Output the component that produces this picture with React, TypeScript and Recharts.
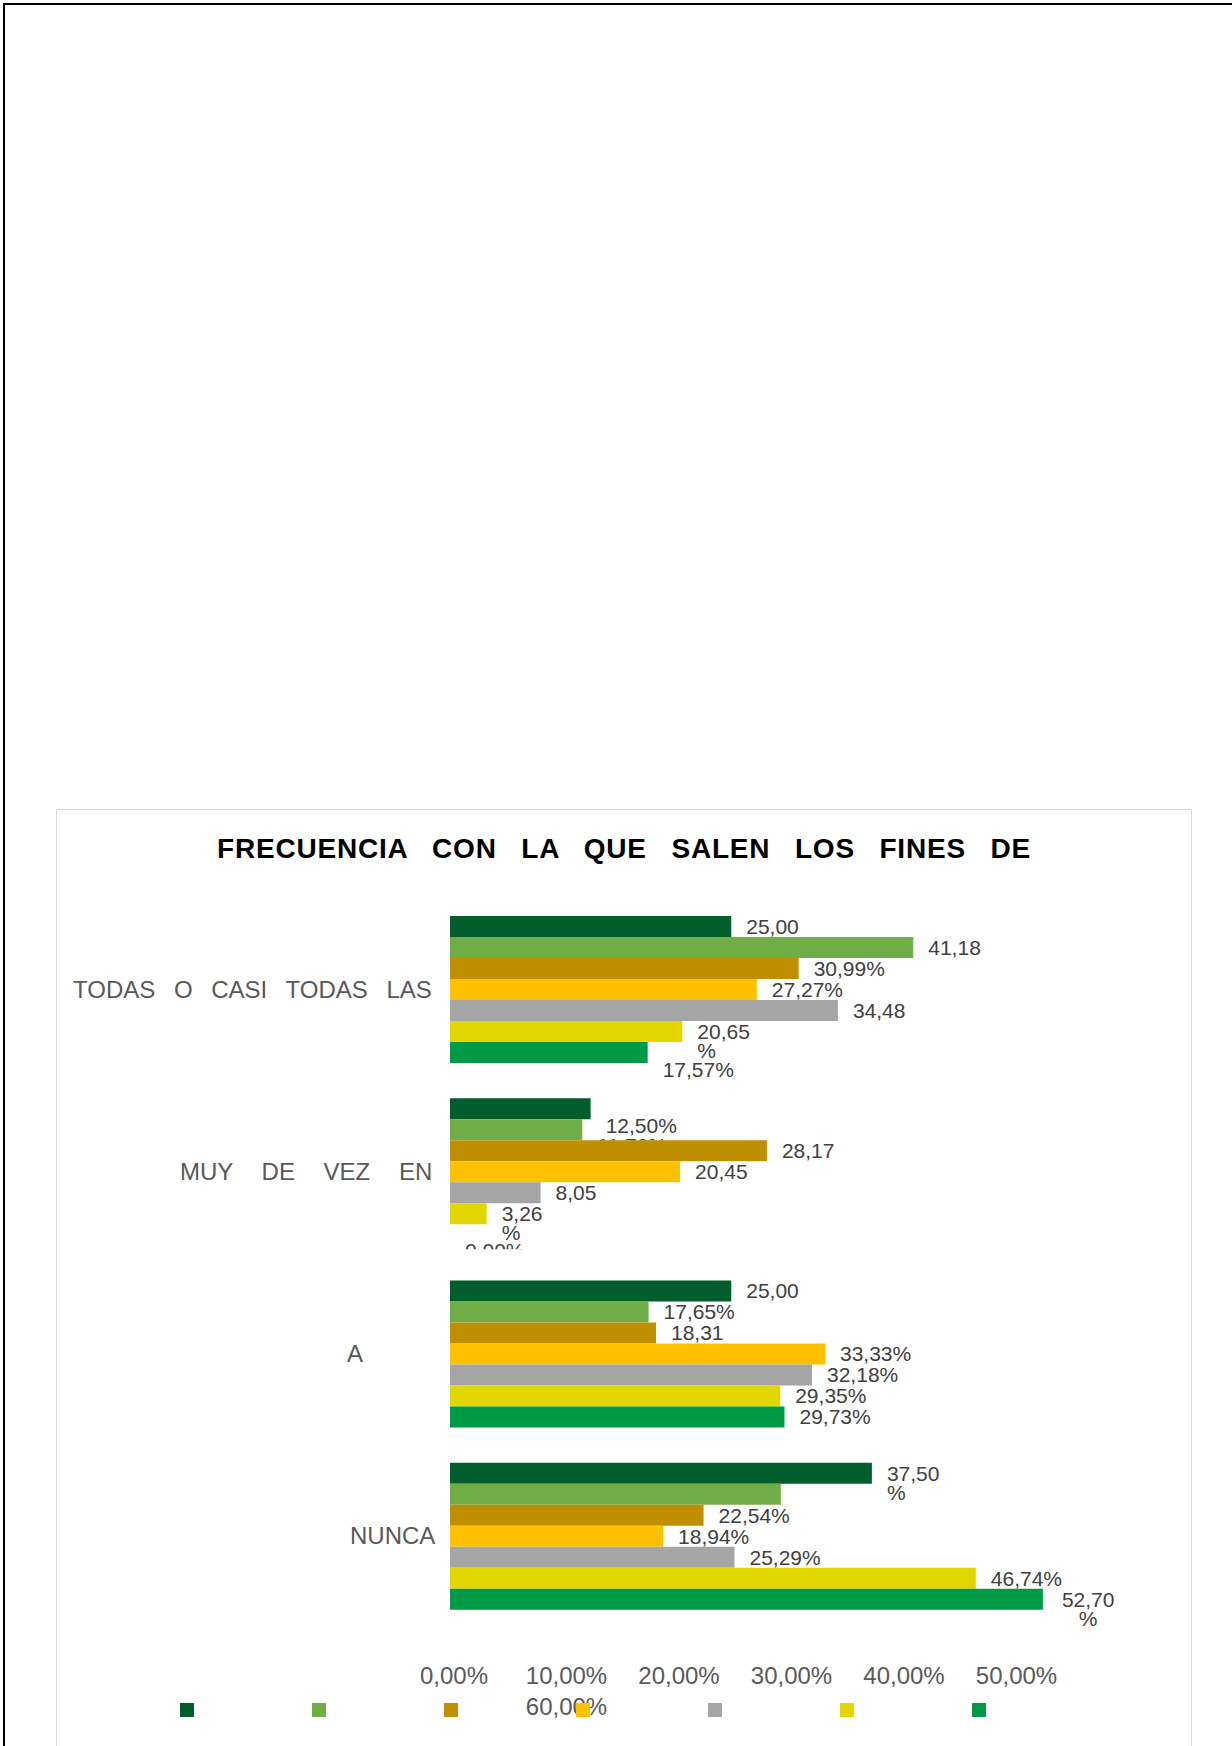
import React from 'react';
import { BarChart, Bar, XAxis, YAxis, LabelList, Legend } from 'recharts';

const CATEGORIES = ['TODAS O CASI TODAS LAS', 'MUY DE VEZ EN', 'A', 'NUNCA'];

const SERIES_NAMES = ['Serie 1', 'Serie 2', 'Serie 3', 'Serie 4', 'Serie 5', 'Serie 6', 'Serie 7'];
const SERIES_COLORS = ['#005E2C', '#70AD47', '#BF8F00', '#FFC000', '#A5A5A5', '#E2D600', '#009A46'];

// percentages per category (same order as CATEGORIES)
const S1 = [25.0, 12.5, 25.0, 37.5];
const S2 = [41.18, 11.76, 17.65, 29.41];
const S3 = [30.99, 28.17, 18.31, 22.54];
const S4 = [27.27, 20.45, 33.33, 18.94];
const S5 = [34.48, 8.05, 32.18, 25.29];
const S6 = [20.65, 3.26, 29.35, 46.74];
const S7 = [17.57, 0.0, 29.73, 52.7];
const SERIES_VALUES = [S1, S2, S3, S4, S5, S6, S7];

const X_TICKS = [0, 10, 20, 30, 40, 50, 60];

// how each data label ended up wrapped in the original
const LABEL_MODES = [
  ['num', 'low', 'num', 'split'],
  ['num', 'lowcut', 'full', 'none'],
  ['full', 'num', 'num', 'full'],
  ['full', 'num', 'full', 'full'],
  ['num', 'num', 'full', 'full'],
  ['split', 'split', 'full', 'full'],
  ['low', 'lowcut', 'full', 'splitc'],
];

const FONT = '"Liberation Sans", Arial, sans-serif';
const W = 1232;
const H = 1746;
const PLOT_LEFT = 450;
const PLOT_W = 675;
const TICK_Y = 1676;

// x position + word spacing for the justified category labels
const CAT_LAYOUT = [
  { x: 73, ws: 12 },
  { x: 180, ws: 22 },
  { x: 347, ws: 0 },
  { x: 350, ws: 0 },
];

const rows = CATEGORIES.map((cat, i) => {
  const row: any = { cat };
  SERIES_NAMES.forEach((name, s) => {
    row[name] = SERIES_VALUES[s][i];
  });
  return row;
});

const fmtNum = (v: number) => v.toFixed(2).replace('.', ',');

const CategoryTick = (props: any) => {
  const { y, payload } = props;
  const idx = CATEGORIES.indexOf(payload.value);
  const lay = CAT_LAYOUT[idx] || { x: 73, ws: 0 };
  return (
    <text x={lay.x} y={y} dy="0.35em" fontSize={24} fill="#595959" fontFamily={FONT} style={{ wordSpacing: lay.ws }}>
      {payload.value}
    </text>
  );
};

const ValueTick = (props: any) => {
  const { x, payload } = props;
  // 60,00% wraps onto a second line under 10,00%
  const wrap = payload.value === 60;
  const tx = wrap ? x - (50 / 60) * PLOT_W : x;
  const ty = wrap ? TICK_Y + 31 : TICK_Y;
  return (
    <text x={tx + 4} y={ty} dy="0.35em" textAnchor="middle" fontSize={24} fill="#595959" fontFamily={FONT}>
      {fmtNum(payload.value) + '%'}
    </text>
  );
};

const makeLabel = (si: number) => (props: any) => {
  const { x, y, width, height, value } = props;
  const v = Number(value);
  const idx = SERIES_VALUES[si].indexOf(v);
  const mode = LABEL_MODES[si][idx];
  if (!mode || mode === 'none') return null;
  const num = fmtNum(v);
  const lx = x + Math.max(width, 0) + 15;
  const cy = y + height / 2;
  const common = { fontSize: 21, fill: '#404040', fontFamily: FONT };

  if (mode === 'full') {
    return <text x={lx} y={cy} dy="0.35em" {...common}>{num + '%'}</text>;
  }
  if (mode === 'num') {
    return <text x={lx} y={cy} dy="0.35em" {...common}>{num}</text>;
  }
  if (mode === 'split' || mode === 'splitc') {
    const sx = mode === 'splitc' ? lx + 4 : lx;
    const approxW = (num.replace(',', '').length * 0.556 + 0.278) * 21;
    return (
      <g>
        <text x={sx} y={cy} dy="0.35em" {...common}>{num}</text>
        <text
          x={mode === 'splitc' ? sx + approxW / 2 : sx}
          y={cy + 19}
          dy="0.35em"
          textAnchor={mode === 'splitc' ? 'middle' : 'start'}
          {...common}
        >
          %
        </text>
      </g>
    );
  }
  if (mode === 'lowcut') {
    // label pushed a line down and mostly hidden below the bar row
    const id = `lblclip-${si}-${idx}`;
    const cutY = y + height + (v === 0 ? 4 : 0);
    return (
      <g>
        <defs>
          <clipPath id={id}>
            <rect x={lx - 10} y={y - 40} width={200} height={cutY - (y - 40)} />
          </clipPath>
        </defs>
        <text x={lx} y={cy + 16} dy="0.35em" clipPath={`url(#${id})`} {...common}>{num + '%'}</text>
      </g>
    );
  }
  return <text x={lx} y={cy + 17} dy="0.35em" {...common}>{num + '%'}</text>;
};

const LegendSquares = ({ payload }: any) => (
  <div style={{ position: 'relative', height: 14 }}>
    {(payload || []).map((p: any, i: number) => (
      <span
        key={i}
        style={{ position: 'absolute', left: i * 132, top: 0, width: 14, height: 14, background: p.color }}
      />
    ))}
  </div>
);

export default function App() {
  return (
    <div style={{ position: 'absolute', left: 0, top: 0, width: W, height: H, overflow: 'hidden', background: '#fff' }}>
      {/* page frame */}
      <div style={{ position: 'absolute', left: 3, top: 3, width: 1400, height: 1900, borderTop: '2px solid #000', borderLeft: '2px solid #000' }} />
      {/* chart box */}
      <div style={{ position: 'absolute', left: 56, top: 809, width: 1134, height: 1000, border: '1px solid #D9D9D9' }} />
      <div
        style={{
          position: 'absolute',
          left: 217,
          top: 835,
          fontFamily: FONT,
          fontWeight: 'bold',
          fontSize: 28,
          lineHeight: '28px',
          letterSpacing: 0.8,
          wordSpacing: 16,
          whiteSpace: 'nowrap',
          color: '#000',
        }}
      >
        FRECUENCIA CON LA QUE SALEN LOS FINES DE
      </div>
      <div style={{ position: 'absolute', left: 0, top: 0 }}>
        <BarChart
          width={W}
          height={H}
          data={rows}
          layout="vertical"
          margin={{ top: 898, right: W - PLOT_LEFT - PLOT_W, bottom: 59, left: 50 }}
          barCategoryGap={18}
          barGap={0}
        >
          <XAxis
            type="number"
            domain={[0, 60]}
            ticks={X_TICKS}
            height={60}
            axisLine={false}
            tickLine={false}
            tick={<ValueTick />}
            interval={0}
          />
          <YAxis
            type="category"
            dataKey="cat"
            width={400}
            axisLine={false}
            tickLine={false}
            tick={<CategoryTick />}
            interval={0}
          />
          <Legend
            layout="horizontal"
            verticalAlign="middle"
            align="center"
            content={<LegendSquares />}
            wrapperStyle={{ left: 180, top: 1703, width: 830, height: 14 }}
          />
          {SERIES_NAMES.map((name, si) => (
            <Bar key={name} dataKey={name} fill={SERIES_COLORS[si]} minPointSize={0.01} isAnimationActive={false}>
              <LabelList dataKey={name} content={makeLabel(si)} />
            </Bar>
          ))}
        </BarChart>
      </div>
    </div>
  );
}
